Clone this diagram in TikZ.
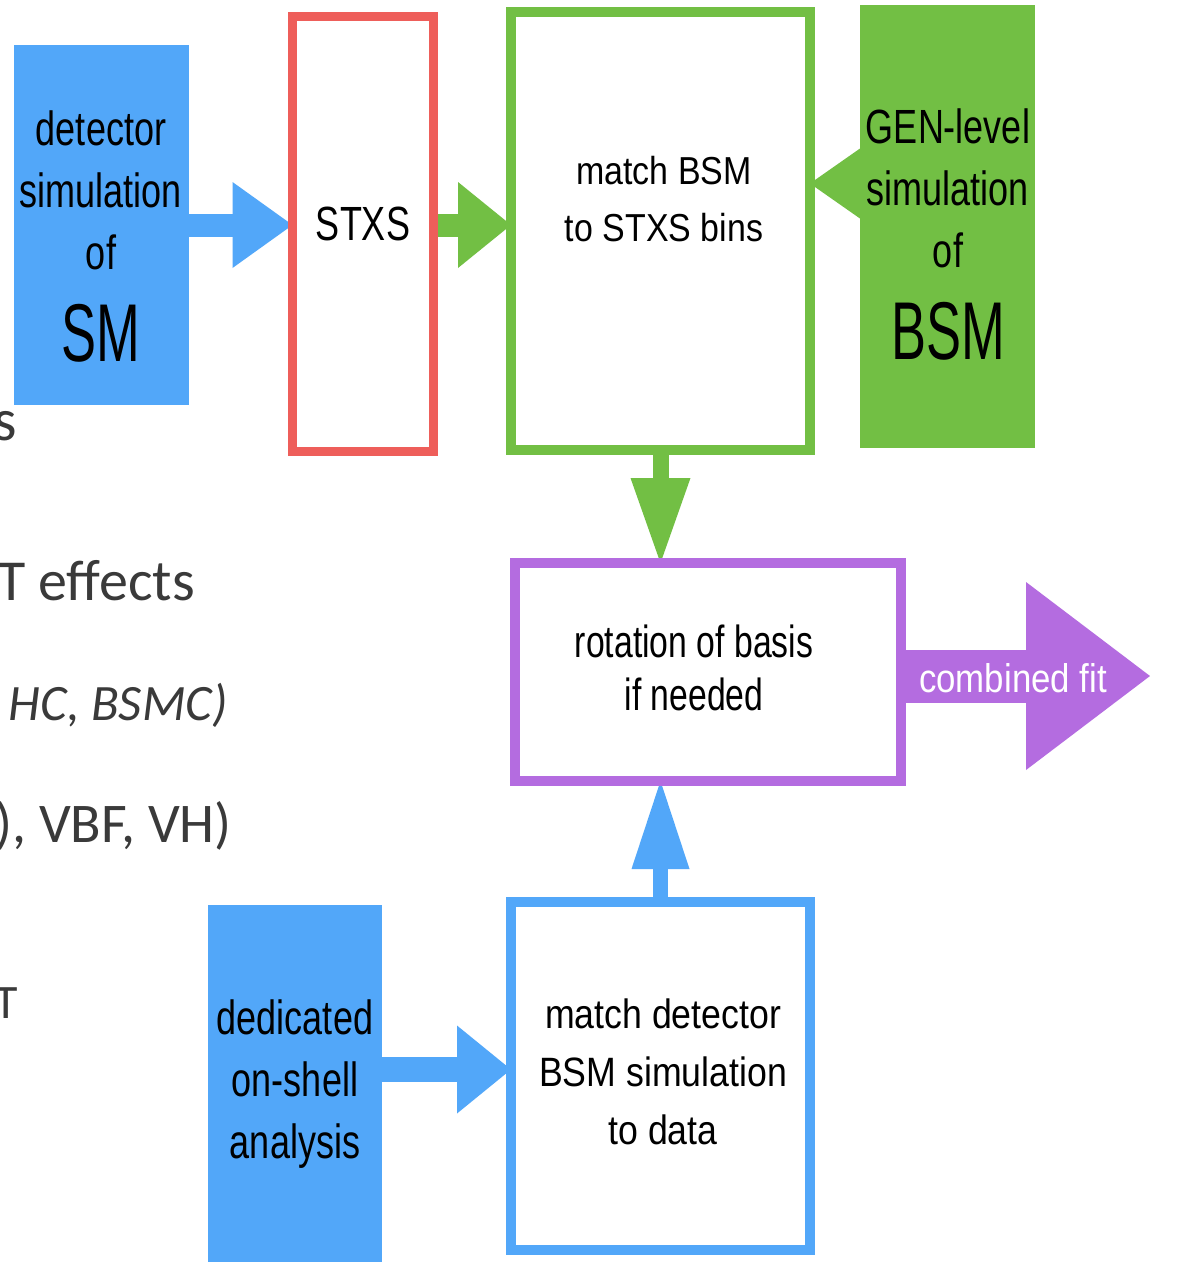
\documentclass[tikz,border=0pt]{standalone}
\usepackage{fontspec}
\setmainfont{Liberation Sans}
\newfontfamily\slidefont{Carlito}
\newfontfamily\narrowfont[FakeStretch=0.75]{Liberation Sans}
\newfontfamily\squeezefont[FakeStretch=0.64]{Liberation Sans}
\newfontfamily\boxfont[FakeStretch=0.87]{Liberation Sans}
\usetikzlibrary{arrows.meta,positioning,calc}

\definecolor{smblue}{HTML}{52A7F9}
\definecolor{stxsred}{HTML}{EE5E5A}
\definecolor{bsmgreen}{HTML}{72BF44}
\definecolor{fitpurple}{HTML}{B46CE0}
\definecolor{slidegray}{HTML}{3A3A3A}

\begin{document}
\begin{tikzpicture}[
    % one unit is one pixel of the slide
    x=1pt, y=-1pt,
    % nodes
    base/.style={rectangle, inner sep=0pt, outer sep=0pt},
    frame/.style={base, draw=#1, line width=10pt},
    block/.style={base, fill=#1},
    lbl/.style={inner sep=0pt, align=center},
    fitlbl/.style={lbl, text=white, font=\boxfont\fontsize{40}{48}\selectfont},
    slide/.style={inner sep=0pt, anchor=base east, text=slidegray},
    % arrows
    pipe/.style n args={4}{draw=#1, line width=#2,
      -{Triangle[width=#3, length=#4, line width=0pt]}}
  ]

  \pgfdeclarelayer{background}
  \pgfdeclarelayer{arrows}
  \pgfsetlayers{background,arrows,main}

  \pgfonlayer{background}
  \path[use as bounding box, fill=white] (0,0) rectangle (1150,1262);
  \endpgfonlayer

  \pgfonlayer{main}

  \begin{scope}
    \clip (0,0) rectangle (1150,1262);
    % what is left of the slide text
    \node (bullet1) [slide, font=\slidefont\fontsize{60}{72}\selectfont] at (17,440)  {s};
    \node (bullet2) [slide, font=\slidefont\fontsize{58}{70}\selectfont] at (195,600) {T effects};
    \node (bullet3) [slide, font=\slidefont\itshape\fontsize{51}{60}\selectfont] at (228,720) {HC, BSMC)};
    \node (bullet4) [slide, font=\slidefont\fontsize{56}{66}\selectfont] at (232,842) {), VBF, VH)};
    \node (bullet5) [slide, font=\slidefont\fontsize{48}{56}\selectfont] at (18,1018) {T};

    \node (ded)  [block=smblue, minimum width=174pt, minimum height=357pt] at (295,1083.5) {};
  \end{scope}

  \node (sm)    [block=smblue,   minimum width=175pt, minimum height=360pt] at (101.5,225)  {};
  \node (gen)   [block=bsmgreen, minimum width=175pt, minimum height=443pt] at (947.5,226.5) {};
  \node (stxs)  [frame=stxsred, line width=9pt,
                 minimum width=141pt, minimum height=435pt]               at (363,234)    {};
  \node (match) [frame=bsmgreen,  minimum width=299pt, minimum height=438pt] at (660.5,231) {};
  \node (rot)   [frame=fitpurple, minimum width=386pt, minimum height=218pt] at (708,672)   {};
  \node (det)   [frame=smblue,    minimum width=299pt, minimum height=348pt] at (660.5,1076) {};

  % box texts
  \node (smtext)    [lbl, font=\narrowfont\fontsize{48}{62}\selectfont] at (101,237)
        {detector\\simulation\\of\\[30pt]{\squeezefont\fontsize{82}{90}\selectfont SM}};
  \node (gentext)   [lbl, font=\narrowfont\fontsize{48}{62}\selectfont] at (948,235)
        {GEN-level\\simulation\\of\\[30pt]{\squeezefont\fontsize{82}{90}\selectfont BSM}};
  \node (stxstext)  [lbl, font=\narrowfont\fontsize{48}{56}\selectfont] at (363,224)   {STXS};
  \node (matchtext) [lbl, font=\boxfont\fontsize{39}{57}\selectfont]    at (664,199.5)
        {match BSM\\to STXS bins};
  \node (rottext)   [lbl, font=\narrowfont\fontsize{45}{53}\selectfont] at (694,668)
        {rotation of basis\\if needed};
  \node (dettext)   [lbl, font=\boxfont\fontsize{41}{58}\selectfont]    at (663,1072)
        {match detector\\BSM simulation\\to data};
  \node (dedtext)   [lbl, font=\narrowfont\fontsize{48}{62}\selectfont] at (295,1084)
        {dedicated\\on-shell\\analysis};

  \endpgfonlayer

  \pgfonlayer{arrows}

  \draw[pipe={smblue}{23pt}{86pt}{60pt}]   (sm.east) -- (sm.east -| stxs.west);
  \draw[pipe={bsmgreen}{23pt}{86pt}{53pt}] (sm.east -| stxs.east) -- (sm.east -| match.west);

  \coordinate (genport) at ([yshift=43pt]gen.west);
  \draw[pipe={bsmgreen}{1pt}{70pt}{50pt}]  (genport) -- (genport -| match.east);

  \draw[pipe={bsmgreen}{16pt}{60pt}{85pt}] (match.south) -- (match.south |- rot.north);
  \draw[pipe={smblue}{15pt}{58pt}{88pt}]   (det.north) -- (det.north |- rot.south);

  \coordinate (dedport) at ([yshift=14pt]ded.east);
  \draw[pipe={smblue}{25pt}{88pt}{54pt}]   (dedport) -- (dedport -| det.west);

  \coordinate (fitport) at ([yshift=-4pt]rot.east);
  \coordinate (fitend)  at (1150,676);
  \draw[pipe={fitpurple}{53pt}{188pt}{124pt}] (fitport) -- node[fitlbl, pos=0.45, yshift=-2pt] {combined fit} (fitend);

  \endpgfonlayer
\end{tikzpicture}
\end{document}
